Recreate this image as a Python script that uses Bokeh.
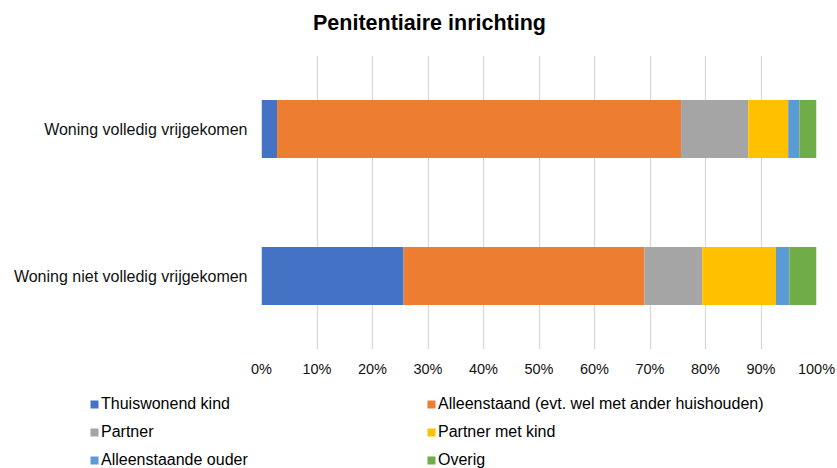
from bokeh.plotting import figure
from bokeh.models import (FixedTicker, PrintfTickFormatter, Legend, LegendItem, Label,
                          ColumnDataSource, Range1d, FactorRange)
from bokeh.embed import file_html
from bokeh.resources import INLINE

# ---- data (percent) ----
categories = ["Woning volledig vrijgekomen", "Woning niet volledig vrijgekomen"]
series_names = ["Thuiswonend kind", "Alleenstaand (evt. wel met ander huishouden)",
                "Partner", "Partner met kind", "Alleenstaande ouder", "Overig"]
thuiswonend_kind = [2.8, 25.6]
alleenstaand = [72.8, 43.4]
partner = [12.1, 10.4]
partner_met_kind = [7.2, 13.3]
alleenstaande_ouder = [2.0, 2.4]
overig = [3.1, 4.9]
x_ticks = [0, 10, 20, 30, 40, 50, 60, 70, 80, 90, 100]
title_text = "Penitentiaire inrichting"

colors = ["#4472C4", "#ED7D31", "#A5A5A5", "#FFC000", "#5B9BD5", "#70AD47"]
keys = ["s0", "s1", "s2", "s3", "s4", "s5"]

src = ColumnDataSource(dict(cat=categories,
                            s0=thuiswonend_kind, s1=alleenstaand, s2=partner,
                            s3=partner_met_kind, s4=alleenstaande_ouder, s5=overig))

FONT = "Liberation Sans"
W = 837
H0 = 40    # title strip
H1 = 345   # chart
H2 = 83    # legend strip


def blank_strip(height):
    f = figure(width=W, height=height, output_backend="svg", toolbar_location=None,
               x_range=Range1d(0, 1), y_range=Range1d(0, 1),
               x_axis_location=None, y_axis_location=None,
               min_border=0, min_border_left=0, min_border_right=0,
               min_border_top=0, min_border_bottom=0)
    f.outline_line_color = None
    f.xgrid.grid_line_color = None
    f.ygrid.grid_line_color = None
    return f


# ---- title strip ----
tf = blank_strip(H0)
tf.add_layout(Label(x=429, y=H0 - 22, x_units="screen", y_units="screen", text=title_text,
                    text_font=FONT, text_font_style="bold", text_font_size="21.5px",
                    text_align="center", text_baseline="middle", text_color="#000000"))

# ---- chart ----
p = figure(width=W, height=H1, output_backend="svg", toolbar_location=None,
           y_range=FactorRange(factors=list(reversed(categories)), range_padding=0),
           x_range=Range1d(0, 100),
           min_border_left=261, min_border_right=21, min_border_top=15,
           min_border_bottom=36)
p.outline_line_color = None

renderers = p.hbar_stack(keys, y="cat", height=0.395, color=colors, source=src, line_color=None)

p.xaxis.ticker = FixedTicker(ticks=x_ticks)
p.xaxis.formatter = PrintfTickFormatter(format="%d%%")
for ax in (p.xaxis[0], p.yaxis[0]):
    ax.axis_line_color = None
    ax.major_tick_line_color = None
    ax.minor_tick_line_color = None
    ax.major_tick_out = 0
    ax.major_tick_in = 0
    ax.minor_tick_out = 0
    ax.major_label_text_font = FONT
    ax.major_label_text_color = "#111111"
p.xaxis.major_label_text_font_size = "14.5px"
p.xaxis.major_label_standoff = 11
p.yaxis.major_label_text_font_size = "16px"
p.yaxis.major_label_standoff = 14

p.xgrid.ticker = FixedTicker(ticks=x_ticks)
p.xgrid.grid_line_color = "#d9d9d9"
p.xgrid.grid_line_width = 1.3
p.ygrid.grid_line_color = None

# ---- legend strip ----
lg = blank_strip(H2)
# legend swatches: one zero-width bar per series, outside the visible range
swatches = [lg.hbar(y=[5], left=[0], right=[0], height=0.5, color=c, line_color=None)
            for c in colors]
items = [LegendItem(label=n, renderers=[r]) for n, r in zip(series_names, swatches)]
legend = Legend(items=items, location=(89, -2), orientation="horizontal", ncols=2,
                glyph_width=10, glyph_height=10, label_standoff=2, label_width=317,
                label_height=20, spacing=8, padding=0, margin=0,
                border_line_color=None, background_fill_alpha=0,
                label_text_font=FONT, label_text_font_size="16px", label_text_color="#000000",
                label_text_baseline="middle")
lg.add_layout(legend, "center")

open("out.html", "w").write(file_html([tf, p, lg], INLINE))
